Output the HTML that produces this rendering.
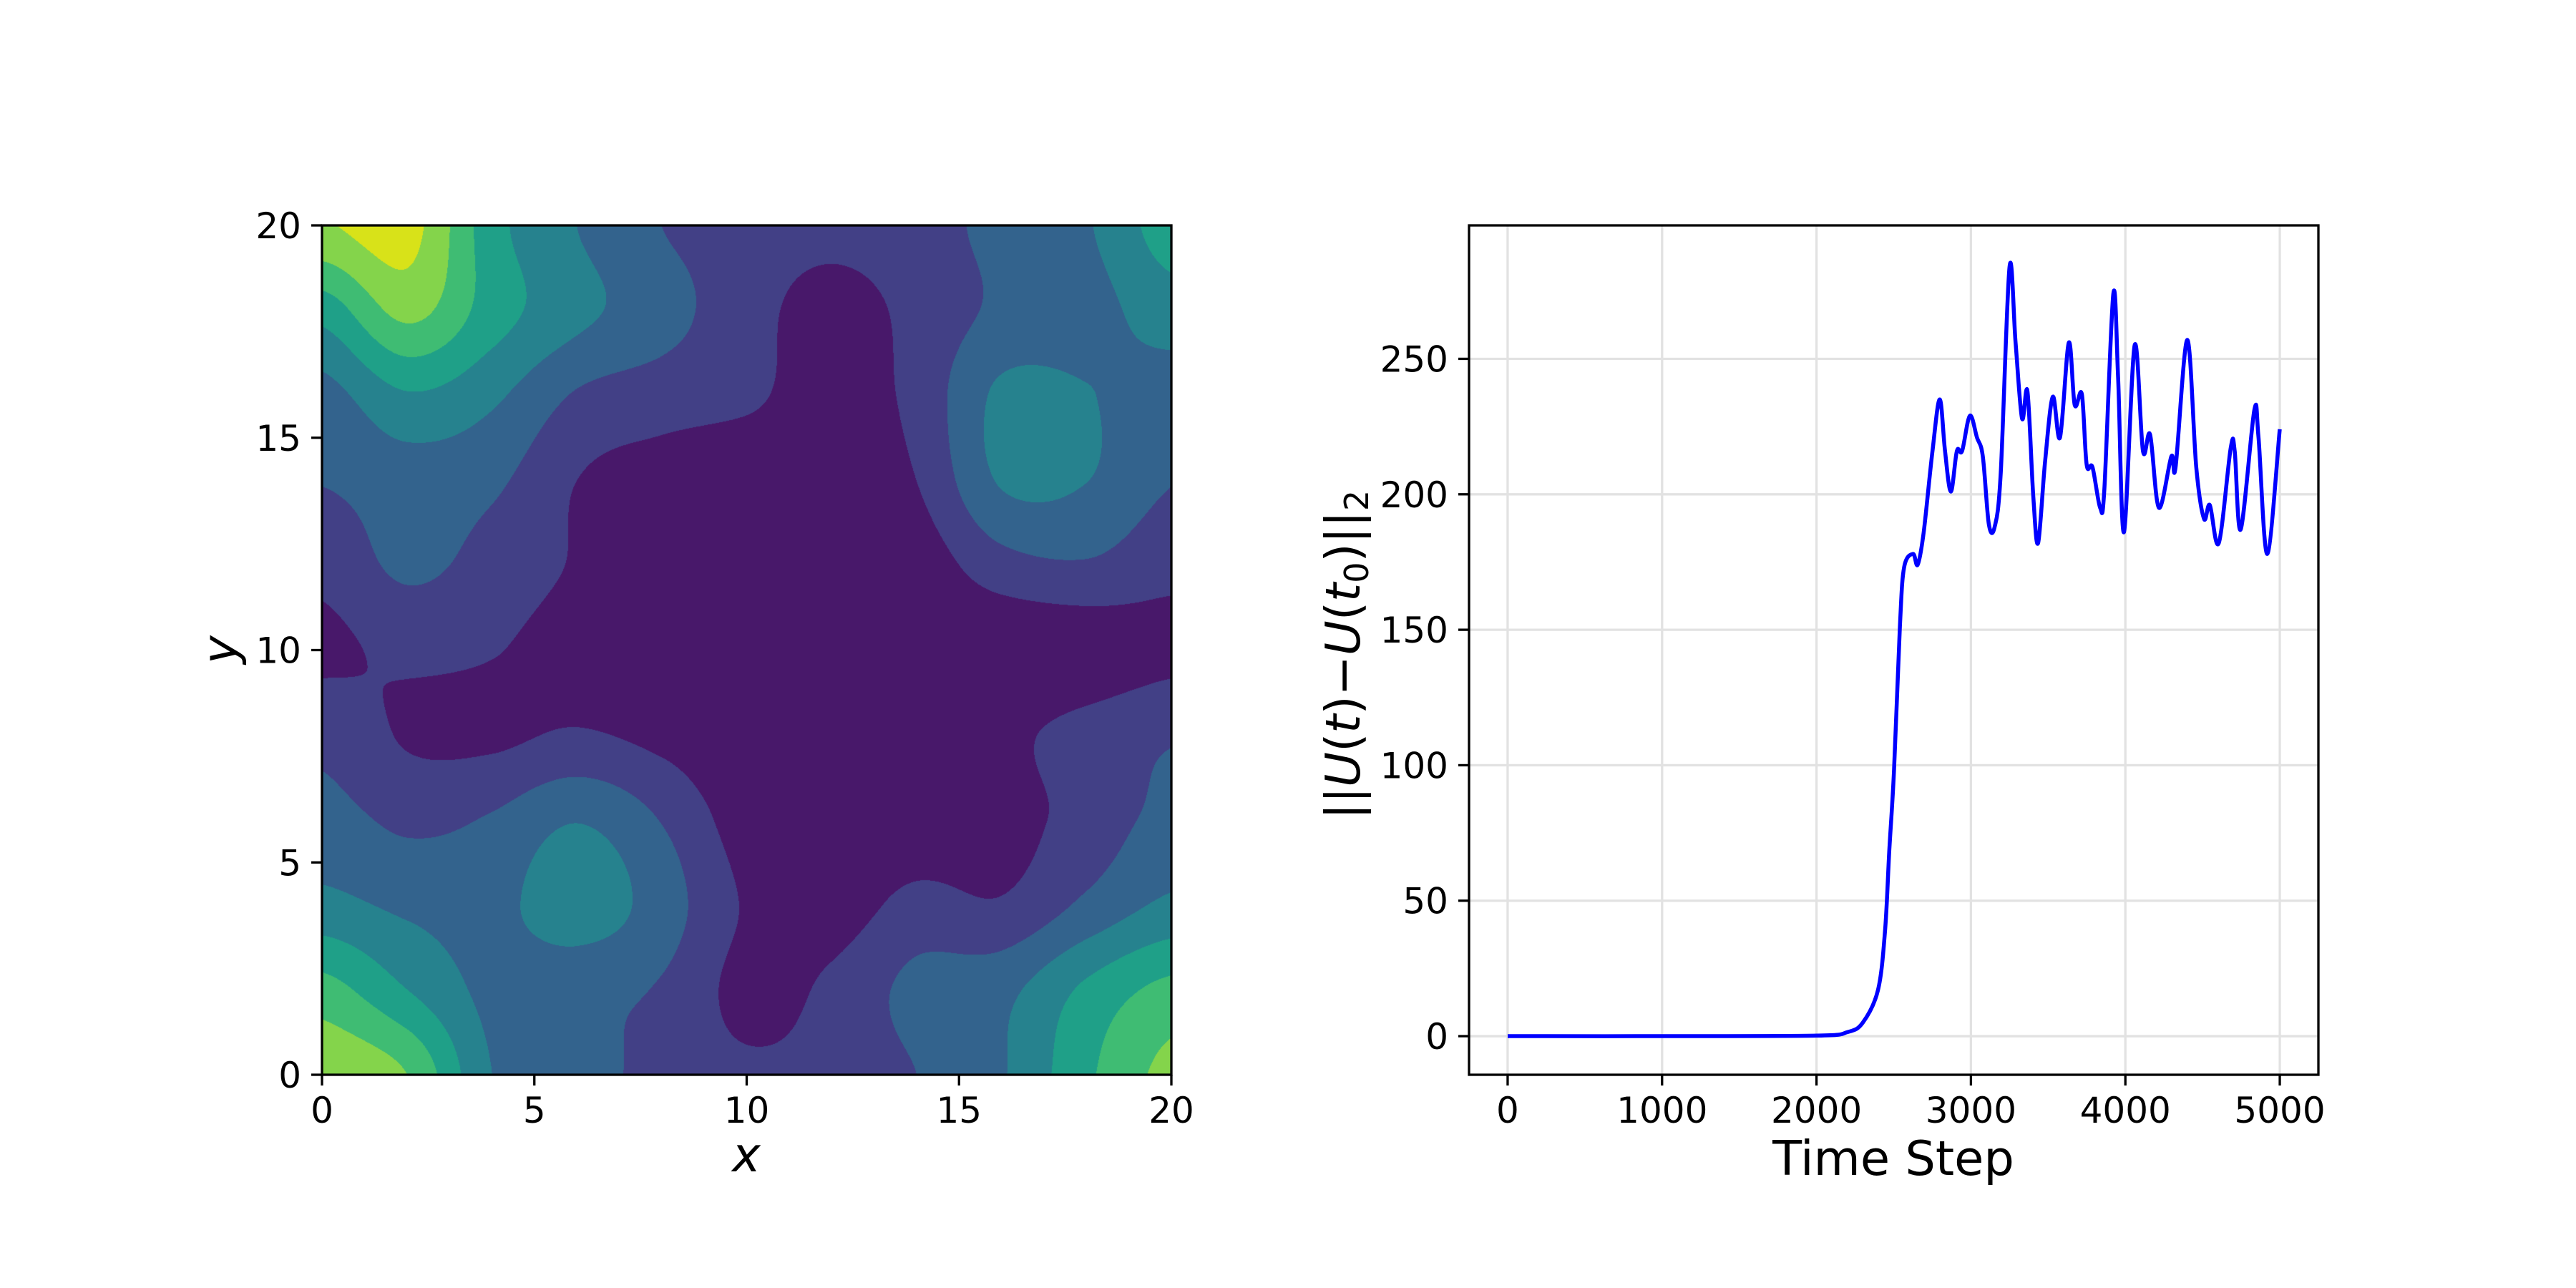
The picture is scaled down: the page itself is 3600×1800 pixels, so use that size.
<!DOCTYPE html>
<html><head><meta charset="utf-8"><style>
html,body{margin:0;padding:0;background:#fff;}
#wrap{position:relative;width:3600px;height:1800px;overflow:hidden;background:#fff;}
#cf{position:absolute;left:450px;top:315px;width:1187px;height:1187px;}
svg{position:absolute;left:0;top:0;}
text{font-family:"DejaVu Sans","Liberation Sans",sans-serif;fill:#000;}
</style></head><body>
<div id="wrap">
<canvas id="cf" width="1187" height="1187"></canvas>
<svg id="svg" width="3600" height="1800" xmlns="http://www.w3.org/2000/svg">
  <g id="left-ax"></g>
  <g id="right-ax"></g>
  <text x="1043" y="1637" font-size="67" font-style="italic" text-anchor="middle">x</text>
  <text transform="translate(330,908) rotate(-90)" font-size="67" font-style="italic" text-anchor="middle">y</text>
  <text x="2646" y="1642" font-size="67" text-anchor="middle">Time Step</text>
  <text transform="translate(1900,915) rotate(-90)" font-size="67" text-anchor="middle">||<tspan font-style="italic">U</tspan>(<tspan font-style="italic">t</tspan>)−<tspan font-style="italic">U</tspan>(<tspan font-style="italic">t</tspan><tspan font-size="46" dy="12">0</tspan><tspan dy="-12">)||</tspan><tspan font-size="46" dy="12">2</tspan></text>
</svg>
</div>
<script>
// ---- contour field data (level values, rows y=20..0, cols x=0..20 step 2)
const gridX = [0,2,4,6,8,10,12,14,16,18,20];
const gridY = [20,18,16,14,12,10,8,6,4,2,0];
const fieldRows = [
 [6.9,7.4,4.4,3.0,2.0,1.5,1.3,1.6,2.3,2.9,4.5],
 [4.4,6.3,4.5,3.3,2.4,1.4,0.6,1.3,2.2,2.6,3.5],
 [2.6,3.9,3.2,1.9,1.5,1.2,0.5,1.3,3.2,3.05,2.5],
 [2.05,2.5,2.2,1.0,0.5,0.2,0.3,1.0,3.1,3.02,2.05],
 [1.3,2.2,1.6,0.9,0.2,0.2,0.2,0.4,1.6,1.9,1.3],
 [0.8,1.2,1.05,0.6,0.1,0.1,0.1,0.1,0.1,0.3,0.7],
 [1.7,0.9,0.8,1.1,0.7,0.1,0.1,0.1,0.7,1.4,1.9],
 [2.4,1.8,2.1,2.95,1.95,0.5,0.2,0.3,0.6,1.4,2.3],
 [3.3,2.8,2.7,3.6,2.5,0.9,0.5,1.3,1.1,2.2,3.2],
 [5.4,4.0,2.7,2.3,1.9,0.7,1.2,2.3,2.7,4.2,5.3],
 [6.8,6.0,3.0,2.5,1.6,1.15,1.3,2.0,2.9,4.8,6.3]
];
const levelColors = ['#48186a','#424086','#33638d','#26828e','#1fa088','#3fbc73','#84d44b','#d8e219'];
const xTicksL = [0,5,10,15,20];
const yTicksL = [0,5,10,15,20];

// ---- time-series data
const tSteps = [0,1000,2000,2200,2300,2398,2444,2471,2502,2540,2567,2625,2655,2694,2751,2798,2832,2870,2909,2943,2993,3039,3077,3116,3154,3193,3250,3289,3331,3366,3404,3435,3480,3530,3577,3634,3672,3718,3749,3787,3837,3864,3922,3953,3991,4060,4114,4160,4217,4298,4325,4401,4459,4509,4547,4605,4682,4708,4747,4835,4862,4919,5000];
const normVals = [0,0,0.2,1.5,5,17,39,68,98,151,173,178,174,186,216,235,216,201,216,216,229,221,214,189,188,208,284,256,228,238,199,182,212,236,221,256,233,237,211,210,195,202,274,243,186,255,216,222,195,214,210,257,210,191,196,182,217,216,187,231,221,178,224];
const xTicksR = [0,1000,2000,3000,4000,5000];
const yTicksR = [0,50,100,150,200,250];

const NS='http://www.w3.org/2000/svg';
function mk(tag, attrs, parent){const e=document.createElementNS(NS,tag);for(const k in attrs)e.setAttribute(k,attrs[k]);parent.appendChild(e);return e;}

// ---- contour canvas
(function(){
  const c=document.getElementById('cf');const ctx=c.getContext('2d');
  const W=c.width,H=c.height;const img=ctx.createImageData(W,H);
  const nR=fieldRows.length,nC=fieldRows[0].length;
  const rgb=levelColors.map(h=>[parseInt(h.substr(1,2),16),parseInt(h.substr(3,2),16),parseInt(h.substr(5,2),16)]);
  function g(r,cc){r=Math.max(0,Math.min(nR-1,r));cc=Math.max(0,Math.min(nC-1,cc));return fieldRows[r][cc];}
  function cr(p0,p1,p2,p3,t){return 0.5*((2*p1)+(-p0+p2)*t+(2*p0-5*p1+4*p2-p3)*t*t+(-p0+3*p1-3*p2+p3)*t*t*t);}
  for(let py=0;py<H;py++){
    const fy=py/(H-1)*(nR-1);const r=Math.min(nR-2,Math.floor(fy));const ty=fy-r;
    for(let px=0;px<W;px++){
      const fx=px/(W-1)*(nC-1);const cc=Math.min(nC-2,Math.floor(fx));const tx=fx-cc;
      const cols=[];
      for(let k=-1;k<=2;k++)cols.push(cr(g(r+k,cc-1),g(r+k,cc),g(r+k,cc+1),g(r+k,cc+2),tx));
      let v=cr(cols[0],cols[1],cols[2],cols[3],ty);
      let L=Math.floor(v);L=Math.max(0,Math.min(7,L));
      const i=(py*W+px)*4;img.data[i]=rgb[L][0];img.data[i+1]=rgb[L][1];img.data[i+2]=rgb[L][2];img.data[i+3]=255;
    }
  }
  ctx.putImageData(img,0,0);
})();

// ---- left axes
(function(){
  const g=document.getElementById('left-ax');
  const x0=450,x1=1637,y0=315,y1=1502;
  const sx=v=>x0+(v-0)/20*(x1-x0), sy=v=>y1-(v-0)/20*(y1-y0);
  xTicksL.forEach(v=>{
    const t=mk('line',{x1:sx(v),x2:sx(v),y1:y1,y2:y1+15,stroke:'#000','stroke-width':3.3},g);
    
    const l=mk('text',{x:sx(v),y:y1+67,'font-size':50,'text-anchor':'middle'},g);l.textContent=v;
    
  });
  yTicksL.forEach(v=>{
    const t=mk('line',{x1:x0-15,x2:x0,y1:sy(v),y2:sy(v),stroke:'#000','stroke-width':3.3},g);
    
    const l=mk('text',{x:x0-29,y:sy(v)+18,'font-size':50,'text-anchor':'end'},g);l.textContent=v;
    
  });
  const f=mk('rect',{x:x0,y:y0,width:x1-x0,height:y1-y0,fill:'none',stroke:'#000','stroke-width':3.3},g);
  
})();

// ---- right axes
(function(){
  const g=document.getElementById('right-ax');
  const x0=2053,x1=3240,y0=315,y1=1502;
  const xmin=-250,xmax=5250,ymin=-14.25,ymax=299.25;
  const sx=v=>x0+(v-xmin)/(xmax-xmin)*(x1-x0), sy=v=>y1-(v-ymin)/(ymax-ymin)*(y1-y0);
  xTicksR.forEach(v=>{
    const gl=mk('line',{x1:sx(v),x2:sx(v),y1:y0,y2:y1,stroke:'#e2e2e2','stroke-width':3.3},g);
    
  });
  yTicksR.forEach(v=>{
    const gl=mk('line',{x1:x0,x2:x1,y1:sy(v),y2:sy(v),stroke:'#e2e2e2','stroke-width':3.3},g);
    
  });
  const P=tSteps.map((t,i)=>[sx(t),sy(normVals[i])]);
  let d='M'+P[0][0].toFixed(1)+','+P[0][1].toFixed(1);
  for(let i=0;i<P.length-1;i++){
    const p0=P[Math.max(0,i-1)],p1=P[i],p2=P[i+1],p3=P[Math.min(P.length-1,i+2)];
    const c1=[p1[0]+(p2[0]-p0[0])/6,p1[1]+(p2[1]-p0[1])/6];
    const c2=[p2[0]-(p3[0]-p1[0])/6,p2[1]-(p3[1]-p1[1])/6];
    d+=' C'+c1[0].toFixed(1)+','+c1[1].toFixed(1)+' '+c2[0].toFixed(1)+','+c2[1].toFixed(1)+' '+p2[0].toFixed(1)+','+p2[1].toFixed(1);
  }
  const line=mk('path',{d:d,fill:'none',stroke:'#0000ff','stroke-width':5.5,'stroke-linejoin':'round'},g);
  
  xTicksR.forEach(v=>{
    const t=mk('line',{x1:sx(v),x2:sx(v),y1:y1,y2:y1+15,stroke:'#000','stroke-width':3.3},g);
    
    const l=mk('text',{x:sx(v),y:y1+67,'font-size':50,'text-anchor':'middle'},g);l.textContent=v;
    
  });
  yTicksR.forEach(v=>{
    const t=mk('line',{x1:x0-15,x2:x0,y1:sy(v),y2:sy(v),stroke:'#000','stroke-width':3.3},g);
    
    const l=mk('text',{x:x0-29,y:sy(v)+18,'font-size':50,'text-anchor':'end'},g);l.textContent=v;
    
  });
  const f=mk('rect',{x:x0,y:y0,width:x1-x0,height:y1-y0,fill:'none',stroke:'#000','stroke-width':3.3},g);
  
})();
</script>
</body></html>
